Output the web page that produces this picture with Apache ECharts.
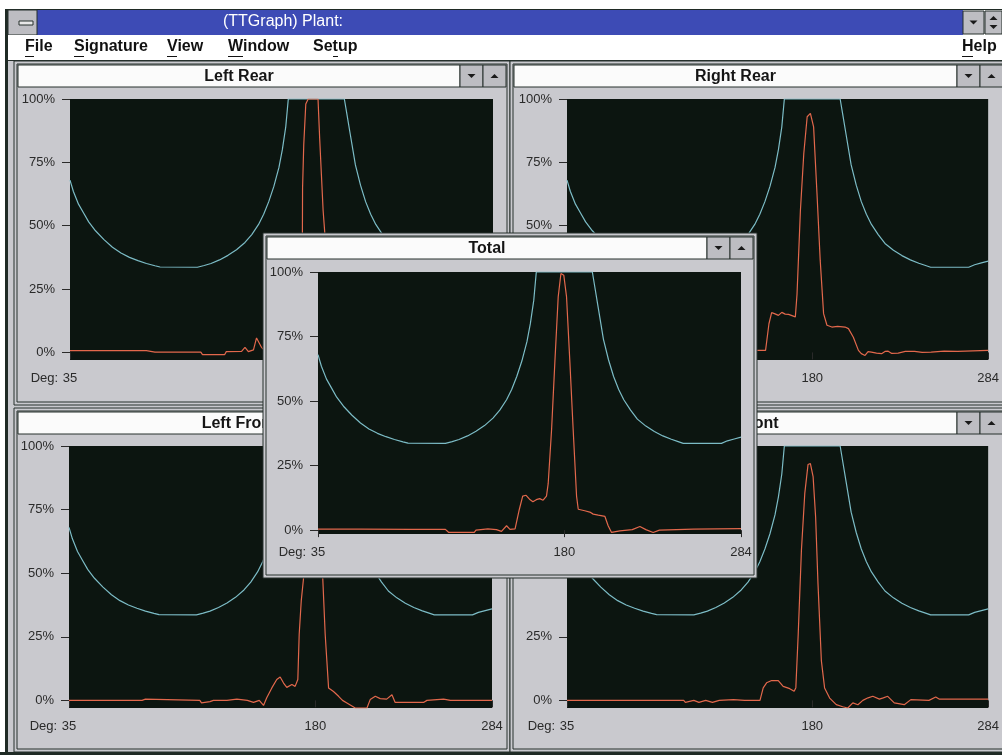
<!DOCTYPE html>
<html><head><meta charset="utf-8">
<script src="https://cdn.jsdelivr.net/npm/echarts@6/dist/echarts.min.js"></script>
<style>html,body{margin:0;padding:0;background:#fff}#c{width:1002px;height:755px}</style>
</head><body><div id="c"></div><script>
// ---------------- data ----------------
const degTicks = [35, 180, 284];
const pctTicks = [0, 25, 50, 75, 100];
const menuItems = ['File', 'Signature', 'View', 'Window', 'Setup'];
const appTitle = '(TTGraph) Plant:';
const helpItem = 'Help';

// cyan limit envelope (same in every window)
const envelope = [[35,68],[37,63.5],[40,58.5],[43,55],[46,51.5],[50,48],[55,44.5],[60,41.5],[65,39.2],[70,37.5],[75,36.2],[80,35.1],[85,34.2],[88,33.7],[110,33.6],[114,34.3],[118,35.1],[123,36.5],[128,38.3],[133,40.5],[138,43.4],[142,46.5],[146,50.5],[149,54.5],[152,59.5],[155,65.5],[158,73],[160,80],[162,89],[163.5,100],[196.5,100],[198,94],[200,86],[203,74],[206,66],[209,59.5],[212,54.5],[215,50.5],[219,46.5],[223,43],[228,40.3],[233,38.2],[238,36.5],[243,35.2],[247,34.3],[250,33.6],[272.5,33.6],[276,34.6],[280,35.3],[284,36]];

const leftRear = [[35,0.7],[80,0.7],[85,0.1],[112,0.1],[113,-0.9],[126,-0.9],[127,0.3],[136,0.4],[138,2],[140,0.3],[143,1],[144.8,5.7],[147.7,2],[150,0.5],[153,4],[156,7],[160,6],[164,5],[168,6],[171,8],[171.8,47],[171.9,65],[172.6,82],[173.8,98],[175.2,100],[181,100],[182,84],[183,70],[184,56],[185,47],[187,15],[189,4],[195,1],[200,-1],[210,-1.5],[215,0.5],[225,1],[230,-0.5],[245,0],[284,0.3]];

const rightRear = [[35,0.5],[80,0.5],[110,0],[130,0.5],[148.5,0.8],[152.4,0.8],[154.4,11.3],[156,15.7],[158,15.2],[160,14.6],[162,15.8],[164,15.1],[166,15],[168,14.5],[170,14],[171,23],[173,56],[175,78.5],[177,93],[178.9,94.3],[180.8,89],[182.8,62.7],[184.7,36.4],[186.7,15.3],[188.7,10.7],[191.6,10],[195,10.3],[199.4,10],[201.4,9.4],[204.3,6],[207.3,0.8],[209,-0.5],[211.2,-1.2],[213,0.3],[215,0.1],[218,-0.3],[221,-0.5],[223,0.4],[224.9,0.5],[227,-0.4],[230.8,-0.3],[235,0.4],[240.5,0.4],[245,0],[250.3,0.1],[258,0.5],[266,0.4],[275,0.6],[284,0.8]];

const leftFront = [[35,0],[78,0],[80,0.5],[81,0],[112,0],[113,-1],[118,-0.5],[120,0],[128,0],[133.8,0.5],[140,0],[143.6,-0.8],[147,0],[149.5,-2],[151.4,1],[154.4,4.9],[157.3,8.2],[159.3,9.2],[161.3,6.8],[163.2,5.1],[166.2,6.2],[168.1,5.5],[169.7,8.2],[170.5,25.9],[171.7,39],[173,47.6],[175,85],[177,99],[180,100],[182,85],[184.4,47.6],[185.8,26],[187.8,4.9],[190.7,3.5],[193.7,1.6],[196,0],[198.6,-1],[203.5,-3],[210.4,-3],[212.3,0.3],[215.3,1.6],[218.2,0.7],[222,0.5],[225.1,2.2],[227,-0.8],[243.7,-0.8],[245.7,0],[255.5,0.5],[259.5,0],[284,0]];

const rightFront = [[35,0],[104,0],[105,-0.8],[110,0],[113,-0.8],[117,0],[121,-0.8],[125,0],[133.4,0.3],[140,0],[149.1,0],[151,4.9],[153,6.9],[156,7.8],[159.9,7.8],[162.8,5.5],[166.7,4.6],[169.3,3.6],[170.3,5],[171.7,26],[173.6,59],[175.6,81.5],[177.5,92.7],[178.9,93.1],[180.5,88],[182,72],[183.4,45.8],[185.4,15.5],[187.3,4.9],[190.3,0.9],[194.2,-1.7],[198,-2.5],[201,-3],[204,-1],[207,-1.7],[209.9,0],[213,1],[215.8,1.6],[219.7,0.5],[222,1],[224.6,1.6],[228.5,-1],[234.4,-1.7],[238.3,0.3],[249,0],[253,1.3],[255,0.5],[270.7,0.5],[284,0.5]];

const total = [[35,0.4],[60,0.4],[90,0.3],[110,0.3],[112,-0.9],[120,-0.9],[127,-0.9],[128,0],[135,0.5],[140,0.2],[143,-0.5],[146,1.7],[148,0.3],[151,0.5],[152,0.5],[153.5,8],[155.5,13.2],[157.5,13.5],[159.5,12],[161.5,11],[163.5,11.8],[165.5,12.2],[167.5,11.6],[169.5,13.2],[170.5,18],[172.5,39],[174.4,64.7],[176.4,90.4],[178,99.4],[179.7,98.7],[181.3,90.4],[183.3,64.7],[185.2,39],[187.2,13.2],[188.2,8.1],[192,7.5],[195,7],[197,6.2],[200,5.8],[203.9,5.3],[205.8,1.7],[207.8,-0.9],[212.7,-0.3],[220,0.2],[224.5,1.4],[228,0.2],[232.3,-0.9],[236,0],[256,0.4],[270,0.5],[284,0.6]];

// ---------------- layout / style ----------------
const FONT = '"Liberation Sans", Arial, sans-serif';
const CYAN = '#7cbcc6', RED = '#e2684c', PLOT_BG = '#0c1510';
const GRAY = '#c9c9ce', DARK = '#27302c', BTN = '#bdbdc2';

const panels = [
  {title:'Left Rear',   data:leftRear,   win:[14,61,496,344],  grid:[70,99,423,261],  ymin:-3,   layer:0},
  {title:'Right Rear',  data:rightRear,  win:[510,61,497,344], grid:[567,99,424,261], ymin:-3,   layer:0},
  {title:'Left Front',  data:leftFront,  win:[14,408,496,344], grid:[69,446,423,262], ymin:-3,   layer:0},
  {title:'Right Front', data:rightFront, win:[510,408,497,344],grid:[567,446,423,262],ymin:-3,   layer:0},
  {title:'Total',       data:total,      win:[263,233,494,345],grid:[318,272,423,262],ymin:-1.5, layer:1}
];

const els = [];
function rect(x,y,w,h,fill,stroke,zl,z){
  els.push({type:'rect',zlevel:zl,z:z,silent:true,shape:{x:x,y:y,width:w,height:h},
    style:{fill:fill,stroke:stroke||null,lineWidth:1}});
}
function text(t,x,y,font,fill,align,zl,z){
  els.push({type:'text',zlevel:zl,z:z,silent:true,
    style:{text:t,x:x,y:y,font:font,fill:fill,align:align,verticalAlign:'middle',textAlign:align,textVerticalAlign:'middle'}});
}
function tri(cx,cy,down,zl,z){
  const pts = down ? [[cx-4,cy-2],[cx+4,cy-2],[cx,cy+2]] : [[cx-4,cy+2],[cx+4,cy+2],[cx,cy-2]];
  els.push({type:'polygon',zlevel:zl,z:z,silent:true,shape:{points:pts},style:{fill:'#1a1a1a'}});
}

// application frame
rect(0,0,1002,755,'#ffffff',null,0,0);
rect(8,60,994,695,GRAY,null,0,0);
rect(5,9,3,746,'#1f2a24',null,0,0);
rect(5,9,997,1,'#1f2a24',null,0,0);
rect(37,10,926,25,'#3d4bb5',null,0,0);
rect(8,10,29,25,BTN,DARK,0,0);
rect(19,21,14,4,'#e8e8e8',DARK,0,0);
rect(963,11,21,23,BTN,DARK,0,0); tri(973.5,22.5,true,0,1);
rect(985,11,17,23,BTN,DARK,0,0);
tri(993.5,18,false,0,1); tri(993.5,27,true,0,1);
text(appTitle,283,22,'16px '+FONT,'#ffffff','center',0,1);
rect(8,35,994,25,'#ffffff',null,0,0);
rect(8,60,994,1,DARK,null,0,0);
const menuX = [25,74,167,228,313];
const ulX = [[25,9],[74,10],[167,10],[228,15],[333,5]];
menuItems.forEach((m,i)=>{
  text(m,menuX[i],47,'bold 16px '+FONT,'#111','left',0,1);
  rect(ulX[i][0],56,ulX[i][1],1,'#111',null,0,1);
});
text(helpItem,962,47,'bold 16px '+FONT,'#111','left',0,1);
rect(962,56,11,1,'#111',null,0,1);
rect(0,752,1002,3,'#1f2a24',null,0,0);

// MDI child windows
panels.forEach(p=>{
  const [x,y,w,h] = p.win, zl = p.layer;
  rect(x,y,w,h,GRAY,DARK,zl,0);
  rect(x+3,y+3,w-6,h-6,null,DARK,zl,0);
  const tbW = w-8-46;
  rect(x+4,y+4,tbW,22,'#fbfbfb',DARK,zl,0);
  rect(x+4+tbW,y+4,23,22,BTN,DARK,zl,0);
  rect(x+4+tbW+23,y+4,23,22,BTN,DARK,zl,0);
  tri(x+4+tbW+11.5,y+15,true,zl,1);
  tri(x+4+tbW+34.5,y+15,false,zl,1);
  text(p.title,x+4+tbW/2,y+15.5,'bold 16px '+FONT,'#151515','center',zl,1);
});

const grids = [], xAxes = [], yAxes = [], series = [];
panels.forEach((p,i)=>{
  const [l,t,w,h] = p.grid;
  grids.push({left:l,top:t,width:w,height:h,show:true,backgroundColor:PLOT_BG,borderWidth:0,zlevel:p.layer,z:1});
  xAxes.push({gridIndex:i,type:'value',min:35,max:284,zlevel:p.layer,z:2,
    axisLine:{show:false},splitLine:{show:false},
    axisTick:{show:true,customValues:degTicks,length:7,lineStyle:{color:'#2a2a2a'}},
    axisLabel:{show:true,customValues:degTicks,margin:12,color:'#2a2a2a',fontSize:13,fontFamily:FONT,
      showMinLabel:true,showMaxLabel:true,
      formatter:v=> v===35 ? '{p|Deg: }{n|35}{q| }' : '{n|'+v+'}',
      rich:{p:{width:33,align:'right',fontSize:13,fontFamily:FONT,color:'#2a2a2a'},
            q:{width:33,fontSize:13,fontFamily:FONT},
            n:{fontSize:13,fontFamily:FONT,color:'#2a2a2a'}}}});
  yAxes.push({gridIndex:i,type:'value',min:p.ymin,max:100,zlevel:p.layer,z:2,
    axisLine:{show:false},splitLine:{show:false},
    axisTick:{show:true,customValues:pctTicks,length:8,lineStyle:{color:'#2a2a2a'}},
    axisLabel:{show:true,customValues:pctTicks,margin:15,color:'#2a2a2a',fontSize:13,fontFamily:FONT,
      formatter:v=>v+'%'}});
  series.push({type:'line',xAxisIndex:i,yAxisIndex:i,data:envelope,showSymbol:false,symbol:'none',
    lineStyle:{color:CYAN,width:1.2},zlevel:p.layer,z:3,silent:true});
  series.push({type:'line',xAxisIndex:i,yAxisIndex:i,data:p.data,showSymbol:false,symbol:'none',
    lineStyle:{color:RED,width:1.2},zlevel:p.layer,z:4,silent:true});
});

const chart = echarts.init(document.getElementById('c'),null,{renderer:'canvas'});
chart.setOption({
  animation:false,
  graphic:{elements:els},
  grid:grids, xAxis:xAxes, yAxis:yAxes, series:series
});
</script></body></html>
